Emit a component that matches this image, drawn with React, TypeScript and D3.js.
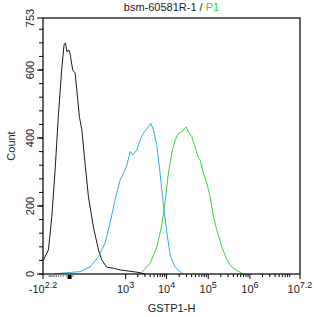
import React, { useEffect, useRef } from "react";
import * as d3 from "d3";

// histogram traces (channel value -> count)
const blackX = [-154, -105, -79, -58, -41, -26, -17, -12, -8, -2, 1, 9, 17, 26, 34, 46, 64, 87, 129, 186, 234, 323, 486, 725, 1294, 2285, 3026];
const blackY = [41, 71, 169, 306, 463, 600, 674, 680, 654, 659, 649, 600, 591, 521, 463, 424, 326, 227, 139, 71, 41, 20, 17, 12, 8, 4, 0];

const blueX = [-60, -33, 37, 100, 186, 290, 397, 538, 725, 970, 1108, 1294, 1511, 1897, 2285, 2749, 3640, 4156, 4812, 5810, 6978, 8380, 10130, 12180, 16040, 21170, 25400];
const blueY = [0, 2, 7, 21, 51, 91, 150, 218, 276, 306, 326, 360, 350, 365, 394, 414, 433, 443, 424, 378, 296, 203, 124, 55, 21, 6, 0];

const greenX = [2285, 3995, 5810, 7675, 9215, 11060, 13370, 16040, 19260, 23270, 25400, 29510, 33500, 40380, 48570, 58260, 63900, 76800, 92600, 111100, 133200, 160900, 212100, 279600, 368700, 485900, 699200];
const greenY = [0, 32, 79, 145, 212, 297, 356, 394, 414, 418, 424, 433, 418, 404, 374, 340, 335, 296, 267, 227, 169, 129, 80, 41, 21, 10, 0];

// axis ticks
const xMajor = [-158.49, 1e3, 1e4, 1e5, 1e6, 15848932];
const xMajorLabel = [["-10", "2.2"], ["10", "3"], ["10", "4"], ["10", "5"], ["10", "6"], ["10", "7.2"]];
const xLowMinor = [-100, -90, -80, -70, -60, -50, -40, -30, -20, -10, 10];
const yMajor = [0, 200, 400, 600, 753];
const yMinorStep = 40;

const BLACK = "#1a1a1a";
const BLUE = "#2eaee0";
const GREEN = "#3fcf3f";

const App = () => {
    const svgRef = useRef<SVGSVGElement>(null);

    useEffect(() => {
        const width = 314;
        const height = 317;
        const m = { top: 18, right: 14, bottom: 43, left: 43 };
        const font = "'Liberation Sans', Arial, sans-serif";

        const svg = d3.select(svgRef.current);
        svg.selectAll("*").remove();
        svg.attr("width", width).attr("height", height);

        const x = d3.scaleSymlog().constant(47.5)
            .domain([-158.49, 15848932])
            .range([m.left, width - m.right]);
        const y = d3.scaleLinear().domain([0, 753]).range([height - m.bottom, m.top]);

        const x0 = m.left, x1 = width - m.right, y0 = height - m.bottom, y1 = m.top;

        // traces
        const series = [
            { xs: blackX, ys: blackY, c: BLACK },
            { xs: blueX, ys: blueY, c: BLUE },
            { xs: greenX, ys: greenY, c: GREEN },
        ];
        const line = d3.line<[number, number]>().x(d => x(d[0])).y(d => y(d[1]));
        series.forEach(s => {
            svg.append("path")
                .attr("d", line(s.xs.map((v, i) => [v, s.ys[i]] as [number, number])))
                .attr("fill", "none")
                .attr("stroke", s.c)
                .attr("stroke-width", 1);
        });

        // frame
        svg.append("rect")
            .attr("x", x0).attr("y", y1)
            .attr("width", x1 - x0).attr("height", y0 - y1)
            .attr("fill", "none").attr("stroke", "#000").attr("stroke-width", 1.2);

        // y ticks
        const yMinor = d3.range(0, 753, yMinorStep);
        yMinor.forEach(v => {
            svg.append("line").attr("x1", x0).attr("x2", x0 - 4)
                .attr("y1", y(v)).attr("y2", y(v)).attr("stroke", "#000");
        });
        yMajor.forEach(v => {
            svg.append("line").attr("x1", x0).attr("x2", x0 - 6)
                .attr("y1", y(v)).attr("y2", y(v)).attr("stroke", "#000");
            svg.append("text")
                .attr("transform", `translate(${x0 - 9},${y(v)}) rotate(-90)`)
                .attr("text-anchor", "middle")
                .attr("font-family", font).attr("font-size", 11).attr("fill", "#222")
                .text(v);
        });

        // x ticks
        const xMinor: number[] = [];
        for (let d = 2; d < 7.2; d++) {
            for (let k = 2; k <= 9; k++) {
                const v = k * Math.pow(10, d);
                if (v > 1000 * 0.99 || d >= 3) if (v > 1000) xMinor.push(v);
            }
        }
        xMinor.filter(v => v < 15848932).forEach(v => {
            svg.append("line").attr("x1", x(v)).attr("x2", x(v))
                .attr("y1", y0).attr("y2", y0 + 3).attr("stroke", "#000");
        });
        xLowMinor.forEach(v => {
            svg.append("line").attr("x1", x(v)).attr("x2", x(v))
                .attr("y1", y0).attr("y2", y0 + 3).attr("stroke", "#777");
        });
        svg.append("rect").attr("x", x(0) - 2).attr("y", y0 + 1)
            .attr("width", 4).attr("height", 4).attr("fill", "#000");

        xMajor.forEach((v, i) => {
            svg.append("line").attr("x1", x(v)).attr("x2", x(v))
                .attr("y1", y0).attr("y2", y0 + 5).attr("stroke", "#000");
            const t = svg.append("text")
                .attr("x", x(v)).attr("y", y0 + 19)
                .attr("text-anchor", "middle")
                .attr("font-family", font).attr("font-size", 11).attr("fill", "#222");
            t.append("tspan").text(xMajorLabel[i][0]);
            t.append("tspan").attr("dy", -5).attr("font-size", 9).text(xMajorLabel[i][1]);
        });

        // axis titles
        svg.append("text")
            .attr("x", (x0 + x1) / 2).attr("y", height - 5)
            .attr("text-anchor", "middle")
            .attr("font-family", font).attr("font-size", 11).attr("fill", "#222")
            .text("GSTP1-H");
        svg.append("text")
            .attr("transform", `translate(15,${(y0 + y1) / 2}) rotate(-90)`)
            .attr("text-anchor", "middle")
            .attr("font-family", font).attr("font-size", 11).attr("fill", "#222")
            .text("Count");

        const title = svg.append("text")
            .attr("x", (x0 + x1) / 2).attr("y", 11)
            .attr("text-anchor", "middle")
            .attr("font-family", font).attr("font-size", 11).attr("fill", "#222");
        title.append("tspan").text("bsm-60581R-1 / ");
        title.append("tspan").attr("fill", GREEN).text("P1");
    }, []);

    return <svg ref={svgRef} style={{ position: "absolute", left: 0, top: 0 }}></svg>;
};

export default App;
